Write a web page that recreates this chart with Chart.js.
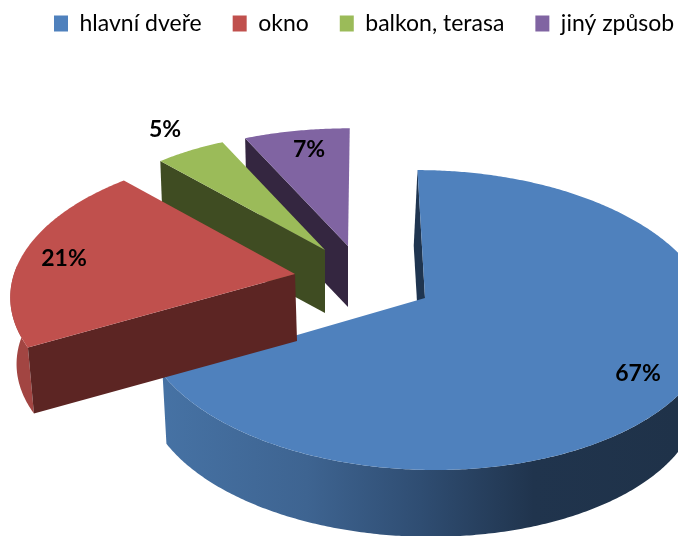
<!DOCTYPE html>
<html><head><meta charset="utf-8">
<style>html,body{margin:0;padding:0;background:#fff}canvas{display:block}</style>
<script src="https://cdn.jsdelivr.net/npm/chart.js@4"></script>
</head><body><canvas id="c" width="678" height="536"></canvas>
<script>
const categories = ["hlavní dveře", "okno", "balkon, terasa", "jiný způsob"];
const shares = [67, 21, 5, 7];
const topColors = ["#4f81bd", "#c0504d", "#9bbb59", "#8064a2"];
const cutColors = ["#1f3550", "#5c2523", "#3f4c22", "#342640"];

// 3D view parameters: how each exploded slice is projected onto the page
const K = 0.147;
const view = [
  {ax:425, ay:298, R:283, Ry:146.7, skew:8.6, depth:72, bx:-4, shrink:0.97},
  {ax:295, ay:274, R:281, Ry:142,   skew:-4,  depth:67, bx:2,  shrink:0.985},
  {ax:325, ay:250, R:260, Ry:135,   skew:6,   depth:63, bx:0,  shrink:0.985},
  {ax:348, ay:246, R:278, Ry:135,   skew:-2,  depth:61, bx:0,  shrink:0.985}
];
const drawOrder = [3, 2, 0, 1];
const labelAt = [[638,374],[64,259],[165,130],[309,150]];

function proj(v, th) {
  const a = Math.sin(th), b = -Math.cos(th), s = 1 / (1 - K * b);
  return [v.ax + v.R * a * s + v.skew * b * s, v.ay + v.Ry * b * s];
}
function low(v, p) {
  return [v.ax + (p[0] - v.ax) * v.shrink + v.bx, v.ay + (p[1] - v.ay) * v.shrink + v.depth];
}
function poly(ctx, pts, fill) {
  ctx.beginPath();
  pts.forEach((p, i) => i ? ctx.lineTo(p[0], p[1]) : ctx.moveTo(p[0], p[1]));
  ctx.closePath();
  ctx.fillStyle = fill;
  ctx.fill();
}
function arcPts(v, a, b) {
  const n = Math.max(2, Math.ceil(Math.abs(b - a) / 0.01)), out = [];
  for (let i = 0; i <= n; i++) out.push(proj(v, a + (b - a) * i / n));
  return out;
}

const pie3d = {
  id: "pie3d",
  beforeDatasetDraw(chart, args) {
    const ctx = chart.ctx, arcs = chart.getDatasetMeta(args.index).data;
    ctx.save();
    drawOrder.forEach(i => {
      const arc = arcs[i], v = view[i];
      const a = arc.startAngle + Math.PI / 2, b = arc.endAngle + Math.PI / 2;
      const apex = [v.ax, v.ay], front0 = Math.max(a, Math.PI / 2), front1 = Math.min(b, Math.PI * 1.52);
      // outer rim
      if (front1 > front0) {
        const top = arcPts(v, front0, front1);
        const bot = top.map(p => low(v, p)).reverse();
        let fill = "#a24542";
        if (i === 0) {
          fill = ctx.createLinearGradient(163, 0, 678, 0);
          fill.addColorStop(0, "#4672a4");
          fill.addColorStop(0.28, "#3e6491");
          fill.addColorStop(0.5, "#2f4d72");
          fill.addColorStop(0.72, "#20344d");
          fill.addColorStop(1, "#1f3249");
        }
        poly(ctx, top.concat(bot), fill);
      }
      // cut face at the slice's start
      const outer = proj(v, a);
      poly(ctx, [outer, apex, low(v, apex), low(v, outer)], cutColors[i]);
      // top surface
      poly(ctx, [apex].concat(arcPts(v, a, b)), arc.options.backgroundColor);
    });
    // value labels
    ctx.fillStyle = "#000";
    ctx.font = "bold 23px Lato";
    ctx.textAlign = "center";
    ctx.textBaseline = "middle";
    shares.forEach((s, i) => ctx.fillText(s + "%", labelAt[i][0], labelAt[i][1]));
    ctx.restore();
    return false;
  }
};

new Chart(document.getElementById("c"), {
  type: "pie",
  data: { labels: categories, datasets: [{ data: shares, backgroundColor: topColors, borderWidth: 0 }] },
  plugins: [pie3d],
  options: {
    responsive: false,
    animation: false,
    layout: { padding: { top: -19, left: 23, right: -62 } },
    plugins: {
      tooltip: { enabled: false },
      legend: {
        position: "top",
        align: "start",
        labels: { boxWidth: 14, boxHeight: 16, padding: 31, color: "#000", font: { family: "Lato", size: 23 } }
      }
    }
  }
});
</script></body></html>
